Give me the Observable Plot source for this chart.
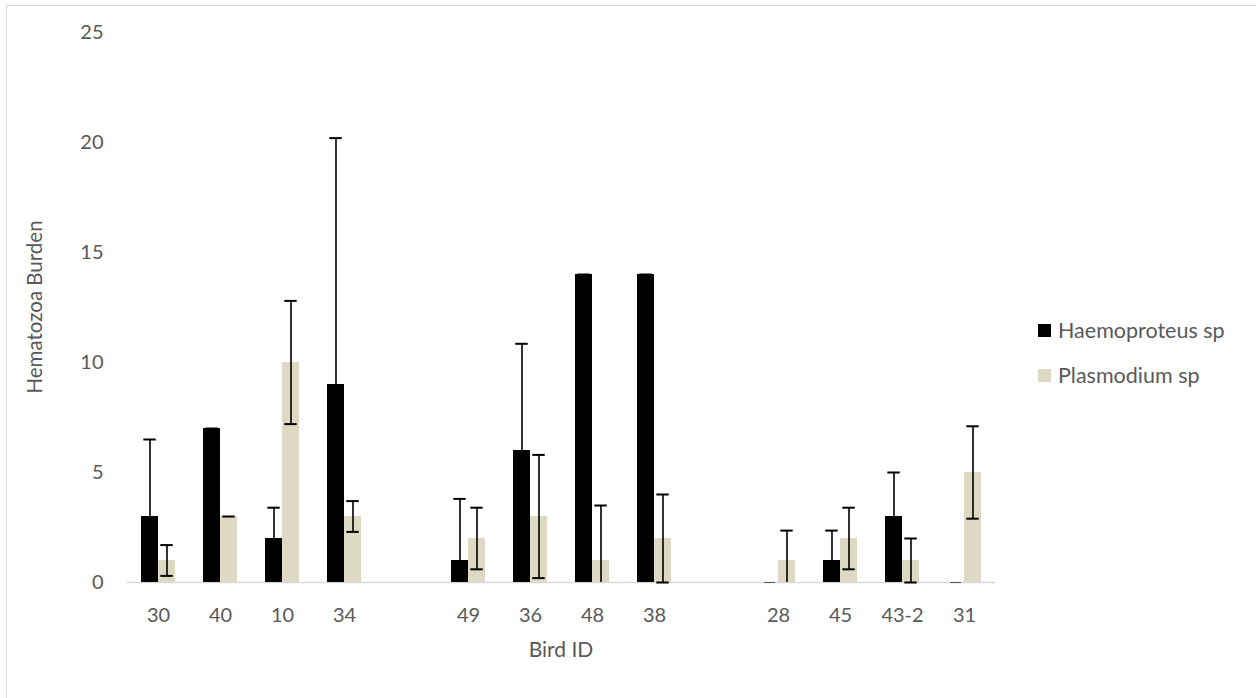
<!DOCTYPE html>
<html>
<head>
<meta charset="utf-8">
<script src="https://cdn.jsdelivr.net/npm/d3@7"></script>
<script src="https://cdn.jsdelivr.net/npm/@observablehq/plot@0.6"></script>
<style>
  html, body { margin: 0; padding: 0; background: #fff; overflow: hidden; }
  #wrap { position: relative; width: 1256px; height: 698px; overflow: hidden; font-family: Lato, "Open Sans", sans-serif; color: #595959; }
  #border { position: absolute; left: 6px; top: 5px; width: 1400px; height: 900px; border: 1.5px solid #D9D9D9; box-sizing: border-box; }
  #chart { position: absolute; left: 0; top: 0; }
  .ytitle { position: absolute; left: 34px; top: 307px; transform: translate(-50%, -50%) rotate(-90deg); font-size: 20.5px; white-space: nowrap; }
  .xtitle { position: absolute; left: 561px; top: 648px; transform: translate(-50%, -50%); font-size: 21px; white-space: nowrap; }
  .legend { position: absolute; left: 1038px; font-size: 21.5px; display: flex; align-items: center; white-space: nowrap; transform: translateY(-50%); }
  .legend .sw { width: 13px; height: 13px; margin-right: 7px; }
</style>
</head>
<body>
<div id="wrap">
  <div id="border"></div>
  <div id="chart"></div>
</div>
<script>
// ---- data ----
const birdIds = ["30", "40", "10", "34", "49", "36", "48", "38", "28", "45", "43-2", "31"];
const axisOrder = ["30", "40", "10", "34", " ", "49", "36", "48", "38", "  ", "28", "45", "43-2", "31"];
const seriesNames = ["Haemoproteus sp", "Plasmodium sp"];
const seriesColors = ["#000000", "#DDD9C3"];
const haemoproteus = [3, 7, 2, 9, 1, 6, 14, 14, 0, 1, 3, 0];
const haemoproteusErr = [3.5, 0, 1.4, 11.2, 2.8, 4.85, 0, 0, 0, 1.36, 2, 0];
const plasmodium = [1, 3, 10, 3, 2, 3, 1, 2, 1, 2, 1, 5];
const plasmodiumErr = [0.7, 0, 2.8, 0.7, 1.4, 2.8, 2.5, 2, 1.36, 1.4, 1, 2.1];
const yTicks = [0, 5, 10, 15, 20, 25];

// ---- build table ----
const rows = [];
birdIds.forEach((id, i) => {
  rows.push({id, series: seriesNames[0], value: haemoproteus[i], err: haemoproteusErr[i]});
  rows.push({id, series: seriesNames[1], value: plasmodium[i], err: plasmodiumErr[i]});
});
rows.forEach(d => { d.hi = d.value + d.err; d.lo = Math.max(0, d.value - d.err); d.rawLo = d.value - d.err; });
const bars = rows.filter(d => d.value > 0);
const zeros = rows.filter(d => d.value === 0);
const errRows = rows.filter(d => d.value > 0);
const loCaps = errRows.filter(d => d.rawLo >= 0 && d.err > 0);

const chart = Plot.plot({
  width: 1256,
  height: 698,
  marginLeft: 127,
  marginRight: 261,
  marginTop: 32,
  marginBottom: 116,
  style: {fontFamily: "Lato, 'Open Sans', sans-serif", fontSize: "20px", color: "#595959", background: "transparent"},
  fx: {domain: axisOrder, padding: 0, axis: "bottom", tickSize: 0, tickPadding: 25, label: null,
       tickFormat: d => d.trim()},
  x: {domain: seriesNames, paddingInner: 0, paddingOuter: 0.76, axis: null},
  y: {domain: [0, 25], axis: null},
  color: {domain: seriesNames, range: seriesColors},
  marks: [
    Plot.axisY({ticks: yTicks, tickSize: 0, tickPadding: 24, label: null, facetAnchor: "left", fontSize: 20}),
    Plot.ruleY(axisOrder, {fx: d => d, y: () => 0, stroke: "#D9D9D9", strokeWidth: 1.5}),
    Plot.barY(bars, {fx: "id", x: "series", y: "value", fill: "series"}),
    Plot.tickY(zeros, {fx: "id", x: "series", y: "value", stroke: "#555", strokeWidth: 1, inset: 3}),
    Plot.ruleX(errRows.filter(d => d.err > 0), {fx: "id", x: "series", y1: "lo", y2: "hi", stroke: "#000", strokeWidth: 1.6}),
    Plot.tickY(errRows, {fx: "id", x: "series", y: "hi", stroke: "#000", strokeWidth: 2, inset: 2.3}),
    Plot.tickY(loCaps, {fx: "id", x: "series", y: "lo", stroke: "#000", strokeWidth: 2, inset: 2.3})
  ]
});
document.getElementById("chart").appendChild(chart);

// ---- titles and legend ----
const wrap = document.getElementById("wrap");
const yt = document.createElement("div"); yt.className = "ytitle"; yt.textContent = "Hematozoa Burden"; wrap.appendChild(yt);
const xt = document.createElement("div"); xt.className = "xtitle"; xt.textContent = "Bird ID"; wrap.appendChild(xt);
const legendY = [330, 375];
seriesNames.forEach((name, i) => {
  const item = document.createElement("div");
  item.className = "legend";
  item.style.top = legendY[i] + "px";
  const sw = document.createElement("div"); sw.className = "sw"; sw.style.background = seriesColors[i];
  const tx = document.createElement("span"); tx.textContent = name;
  item.appendChild(sw); item.appendChild(tx);
  wrap.appendChild(item);
});
</script>
</body>
</html>
